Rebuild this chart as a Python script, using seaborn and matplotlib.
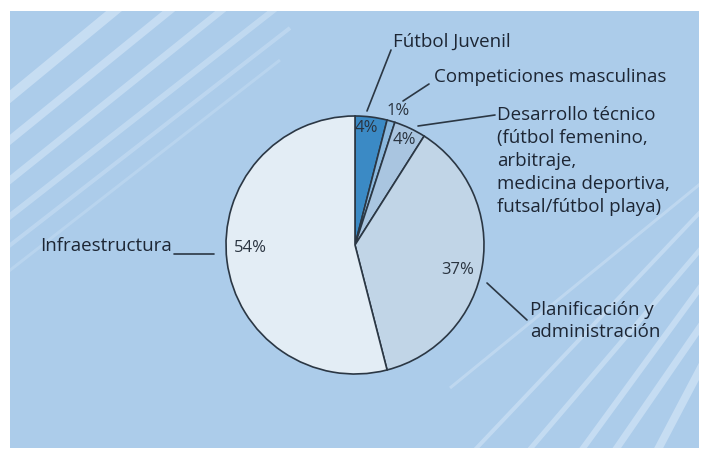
import matplotlib
matplotlib.use("Agg")
import matplotlib.pyplot as plt
from matplotlib.lines import Line2D
import seaborn as sns

# ---- data ----
categories = ["Fútbol Juvenil", "Competiciones masculinas",
              "Desarrollo técnico\n(fútbol femenino,\narbitraje,\nmedicina deportiva,\nfutsal/fútbol playa)",
              "Planificación y\nadministración", "Infraestructura"]
values = [4, 1, 4, 37, 54]
slice_colors = ["#3b8ac5", "#8bb8dd", "#a9c5e0", "#c1d5e7", "#e3edf5"]

sns.set_theme(style="white")
plt.rcParams["font.family"] = ["Open Sans", "DejaVu Sans"]

W, H = 703, 455
fig = plt.figure(figsize=(W / 100, H / 100), dpi=100)
fig.patch.set_facecolor("white")

# background panel in pixel coordinates
x0, x1, y0, y1 = 10, 699, 11, 448
bg = fig.add_axes([x0 / W, (H - y1) / H, (x1 - x0) / W, (y1 - y0) / H])
bg.set_xlim(x0, x1)
bg.set_ylim(y1, y0)
bg.set_facecolor("#acccea")
bg.set_xticks([]); bg.set_yticks([])
for s in bg.spines.values():
    s.set_visible(False)

stripe_col = "#c8def3"
stripes = [
    # upper-left
    ((0, 105), (125, 2), 10, 0.95),
    ((0, 148), (180, 2), 8, 0.9),
    ((0, 188), (232, 2), 7, 0.85),
    ((0, 224), (280, 5), 6, 0.75),
    ((0, 253), (290, 28), 4, 0.6),
    ((0, 278), (280, 60), 3, 0.45),
    # lower-right
    ((705, 180), (450, 388), 3, 0.65),
    ((705, 207), (470, 455), 4, 0.8),
    ((705, 244), (525, 455), 5, 0.85),
    ((705, 281), (578, 455), 6, 0.9),
    ((705, 320), (612, 455), 7, 0.9),
    ((705, 360), (655, 455), 8, 0.95),
]
for (xa, ya), (xb, yb), w, a in stripes:
    bg.plot([xa, xb], [ya, yb], color=stripe_col, lw=w * 0.72, alpha=a,
            solid_capstyle="butt", zorder=1)

# pie axes: centre (355,245) px, radius 129 px
cx, cy, r = 355, 245, 129
ax = fig.add_axes([(cx - r) / W, (H - cy - r) / H, 2 * r / W, 2 * r / H])
wedges, _ = ax.pie(values, colors=slice_colors, startangle=90, counterclock=False,
                   radius=1, wedgeprops=dict(edgecolor="#2b3744", linewidth=1.2))
ax.set_xlim(-1, 1); ax.set_ylim(-1, 1)
ax.set_aspect("equal")
ax.axis("off")


def px(x, y):
    return ((x - cx) / r, (cy - y) / r)


txt_col = "#1d2634"
fs = 13.5

# percentage labels
pct_pos = [(366, 128), (398, 111), (404, 140), (458, 270), (250, 248)]
for v, (x, y) in zip(values, pct_pos):
    ax.text(*px(x, y), f"{v}%", ha="center", va="center", fontsize=12,
            color="#2a3440", clip_on=False)

# category labels and leader lines
label_specs = [
    (categories[0], (393, 42), "left", [(367, 111), (391, 50)]),
    (categories[1], (434, 77), "left", [(403, 101), (429, 84)]),
    (categories[2], (497, 161), "left", [(418, 126), (495, 115)]),
    (categories[3], (530, 321), "left", [(487, 283), (527, 320)]),
    (categories[4], (172, 246), "right", [(174, 254), (214, 254)]),
]
for text, (x, y), ha, line in label_specs:
    ax.text(*px(x, y), text, ha=ha, va="center", fontsize=fs, color=txt_col,
            linespacing=1.34, clip_on=False)
    (xa, ya), (xb, yb) = px(*line[0]), px(*line[1])
    ax.add_line(Line2D([xa, xb], [ya, yb], color="#2b3744", lw=1.2, clip_on=False))

fig.savefig("out.png", dpi=100, facecolor="white")
